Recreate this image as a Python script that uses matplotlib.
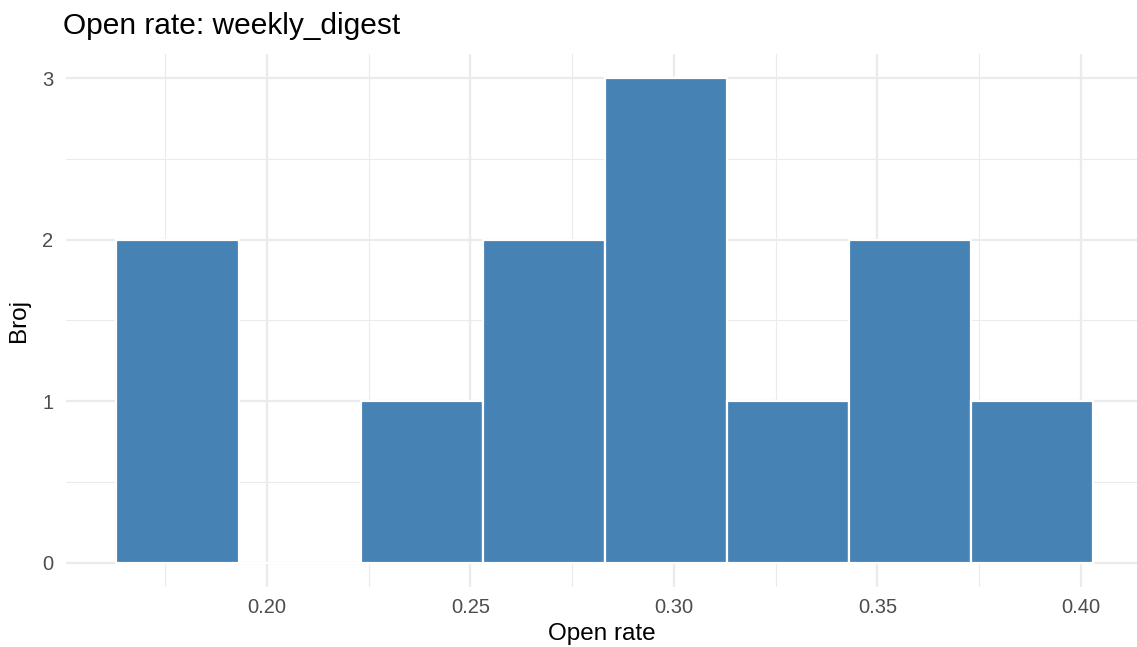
import matplotlib
matplotlib.use('Agg')
import matplotlib.pyplot as plt
import numpy as np

# histogram bins and counts
bin_edges = [0.163, 0.193, 0.223, 0.253, 0.283, 0.313, 0.343, 0.373, 0.403]
counts = [2, 0, 1, 2, 3, 1, 2, 1]
x_ticks = [0.20, 0.25, 0.30, 0.35, 0.40]
x_tick_labels = ['0.20', '0.25', '0.30', '0.35', '0.40']
y_ticks = [0, 1, 2, 3]

plt.rcParams['font.family'] = ['Liberation Sans', 'DejaVu Sans']

fig = plt.figure(figsize=(11.37, 6.47), dpi=100)
ax = fig.add_axes([66 / 1137, 1 - 587 / 647, 1 - 66 / 1137, (587 - 54) / 647])

edges = np.array(bin_edges)
ax.bar(edges[:-1], counts, width=np.diff(edges), align='edge',
       color='#4682B4', edgecolor='white', linewidth=1.6, zorder=3)

ax.set_xlim(0.1506, 0.4138)
ax.set_ylim(-0.15, 3.15)

ax.set_xticks(x_ticks)
ax.set_xticklabels(x_tick_labels)
ax.set_yticks(y_ticks)
ax.set_xticks([0.175, 0.225, 0.275, 0.325, 0.375], minor=True)
ax.set_yticks([0.5, 1.5, 2.5], minor=True)

ax.grid(which='major', color='#EBEBEB', linewidth=1.6, zorder=0)
ax.grid(which='minor', color='#EBEBEB', linewidth=0.8, zorder=0)
ax.set_axisbelow(True)

for s in ax.spines.values():
    s.set_visible(False)
ax.tick_params(which='both', length=0)
ax.tick_params(axis='x', pad=8, labelsize=14.5, labelcolor='#4D4D4D')
ax.tick_params(axis='y', pad=9, labelsize=14.5, labelcolor='#4D4D4D')

ax.set_xlabel('Open rate', fontsize=17.5, color='black', labelpad=4)
ax.set_ylabel('Broj', fontsize=17.5, color='black', labelpad=9)
fig.text(63 / 1137, 1 - 26 / 647, 'Open rate: weekly_digest', fontsize=21.5,
         ha='left', va='center', color='black')

fig.savefig('out.png', dpi=100)
